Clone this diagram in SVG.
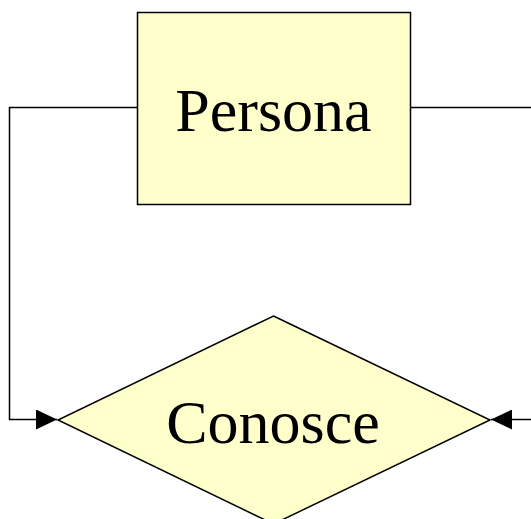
<svg xmlns="http://www.w3.org/2000/svg" width="531" height="519" viewBox="0 0 531 519">
  <style>
    .shape { fill: #ffffcc; stroke: #000; stroke-width: 1.5; }
    .label { font-family: "Liberation Serif", "Times New Roman", serif; font-size: 62px; fill: #000; text-anchor: middle; }
    .edge { fill: none; stroke: #000; stroke-width: 1.5; }
  </style>
  <defs>
    <marker id="arrow" markerUnits="userSpaceOnUse" markerWidth="22" markerHeight="20" refX="21" refY="10" orient="auto">
      <path d="M0,0 L21,10 L0,20 Z" fill="#000"/>
    </marker>
  </defs>
  <rect width="531" height="519" fill="#fff"/>
  <g id="connectors">
    <path class="edge" d="M137.5,107.5 H9.5 V419.5 H57" marker-end="url(#arrow)"/>
    <path class="edge" d="M410.5,107.5 H531"/>
    <path class="edge" d="M531,419.5 H491" marker-end="url(#arrow)"/>
  </g>
  <g id="persona">
    <rect class="shape" x="137.5" y="12.5" width="273" height="192"/>
    <text class="label" x="273.5" y="131">Persona</text>
  </g>
  <g id="conosce">
    <polygon class="shape" points="273.5,316 490,420 273.5,524 58,420"/>
    <text class="label" x="273" y="442.5">Conosce</text>
  </g>
</svg>
